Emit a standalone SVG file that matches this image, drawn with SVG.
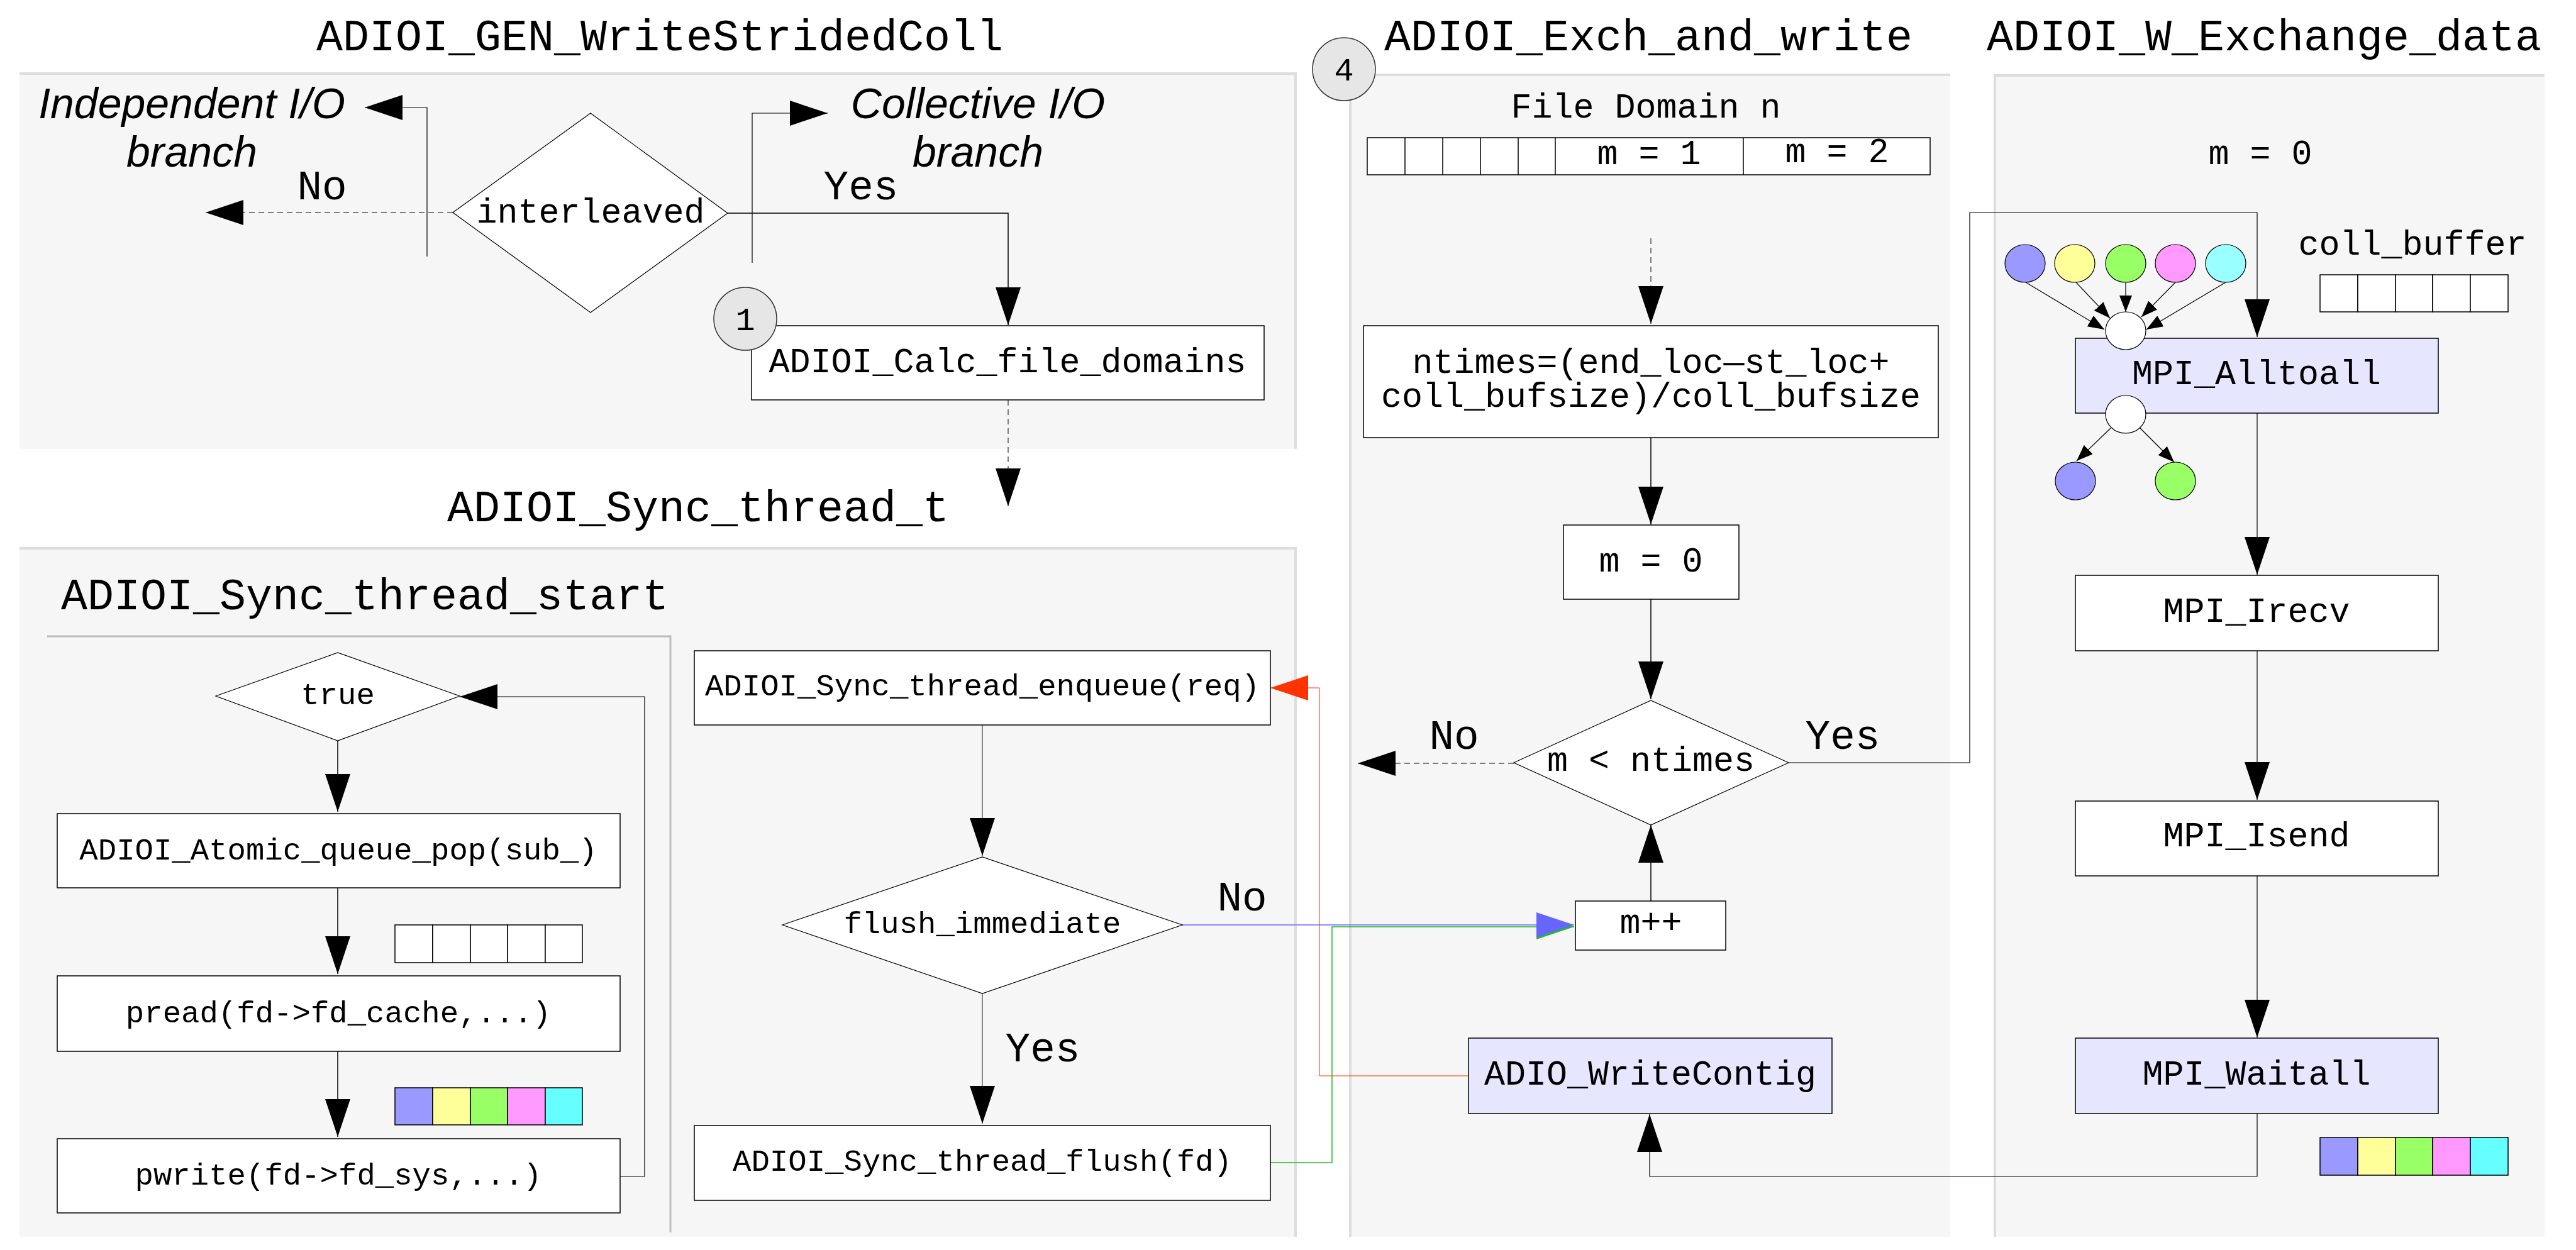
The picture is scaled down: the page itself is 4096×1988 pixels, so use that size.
<svg xmlns="http://www.w3.org/2000/svg" width="4096" height="1988" viewBox="0 0 4096 1988">
<style>
.mono{font-family:"Liberation Mono","DejaVu Sans Mono",monospace;fill:#000}
.t70{font-size:70px}
.t55{font-size:55px}
.t49{font-size:49px}
.t66{font-size:66px}
.it{font-family:"Liberation Sans",Arial,sans-serif;font-style:italic;font-size:68px;fill:#000}
.box{fill:#fff;stroke:#000;stroke-width:1.5}
.boxb{fill:#e6e6ff;stroke:#000;stroke-width:1.5}
.dia{fill:#fff;stroke:#000;stroke-width:1.2}
.panel{fill:#f6f6f6}
.pb{stroke:#dddddd;stroke-width:4;fill:none}
.sb{stroke:#bbbbbb;stroke-width:3;fill:none}
.num{fill:#e6e6e6;stroke:#333;stroke-width:1.5}
.e{fill:none;stroke:#000;stroke-width:1.5}
.eg{fill:none;stroke:#666;stroke-width:1.5}
.ed{fill:none;stroke:#555;stroke-width:1.5;stroke-dasharray:9 6}
.es{fill:none;stroke:#000;stroke-width:1.2}
.cell{fill:#fff;stroke:#000;stroke-width:1.5}
</style>
<defs>
<marker id="ah" markerUnits="userSpaceOnUse" markerWidth="60" markerHeight="40" refX="60" refY="20" orient="auto"><path d="M0,0 L60,20 L0,40 z" fill="#000"/></marker>
<marker id="ahr" markerUnits="userSpaceOnUse" markerWidth="60" markerHeight="40" refX="60" refY="20" orient="auto"><path d="M0,0 L60,20 L0,40 z" fill="#ff3300"/></marker>
<marker id="ahb" markerUnits="userSpaceOnUse" markerWidth="60" markerHeight="40" refX="60" refY="20" orient="auto"><path d="M0,0 L60,20 L0,40 z" fill="#6666ff"/></marker>
<marker id="ahg" markerUnits="userSpaceOnUse" markerWidth="60" markerHeight="40" refX="60" refY="20" orient="auto"><path d="M0,0 L60,20 L0,40 z" fill="#22bb22"/></marker>
<marker id="sa" markerUnits="userSpaceOnUse" markerWidth="26" markerHeight="20" refX="26" refY="10" orient="auto"><path d="M0,0 L26,10 L0,20 z" fill="#000"/></marker>
</defs>
<rect width="4096" height="1988" fill="#fff"/>

<g id="panels">
<rect class="panel" x="31" y="115" width="2030" height="599"/>
<path class="pb" d="M31,117 H2060 V714"/>
<rect class="panel" x="31" y="870" width="2030" height="1097"/>
<path class="pb" d="M31,872 H2060 V1967"/>
<path class="sb" d="M75,1012 H1066 V1960"/>
<rect class="panel" x="2145" y="117" width="956" height="1850"/>
<path class="pb" d="M2147,1967 V119 H3101"/>
<rect class="panel" x="3170" y="118" width="876" height="1849"/>
<path class="pb" d="M3172,1967 V120 H4046"/>
</g>

<g id="titles">
<text class="mono t70" x="1049" y="80" text-anchor="middle">ADIOI_GEN_WriteStridedColl</text>
<text class="mono t70" x="1110" y="829" text-anchor="middle">ADIOI_Sync_thread_t</text>
<text class="mono t70" x="97" y="969">ADIOI_Sync_thread_start</text>
<text class="mono t70" x="2621" y="80" text-anchor="middle">ADIOI_Exch_and_write</text>
<text class="mono t70" x="3600" y="80" text-anchor="middle">ADIOI_W_Exchange_data</text>
</g>

<g id="connectors">
<path class="ed" d="M720,338 H327" marker-end="url(#ah)"/>
<path class="es" d="M679,408 V171 H580" marker-end="url(#ah)"/>
<path class="e" d="M1157,339 H1603 V517" marker-end="url(#ah)"/>
<path class="es" d="M1196,418 V180 H1316" marker-end="url(#ah)"/>
<path class="ed" d="M1603,636 V805" marker-end="url(#ah)"/>
<path class="e" d="M537,1178 V1291" marker-end="url(#ah)"/>
<path class="e" d="M537,1412 V1549" marker-end="url(#ah)"/>
<path class="e" d="M537,1672 V1808" marker-end="url(#ah)"/>
<path class="es" d="M986,1871 H1025 V1108 H731" marker-end="url(#ah)"/>
<path class="eg" d="M1562,1153 V1361" marker-end="url(#ah)"/>
<path class="eg" d="M1562,1580 V1787" marker-end="url(#ah)"/>
<path fill="none" stroke="#22bb22" stroke-width="1.5" d="M2020,1849 H2118 V1474 H2503" marker-end="url(#ahg)"/>
<path fill="none" stroke="#6666ff" stroke-width="1.5" d="M1880,1471 H2503" marker-end="url(#ahb)"/>
<path fill="none" stroke="#ff3300" stroke-width="1" d="M2335,1711 H2098 V1094 H2020" marker-end="url(#ahr)"/>
<path class="ed" d="M2407,1214 H2159" marker-end="url(#ah)"/>
<path class="es" d="M2844,1213 H3132 V338 H3589 V536" marker-end="url(#ah)"/>
<path class="ed" d="M2625,379 V515" marker-end="url(#ah)"/>
<path class="e" d="M2625,696 V834" marker-end="url(#ah)"/>
<path class="e" d="M2625,953 V1112" marker-end="url(#ah)"/>
<path class="e" d="M2625,1433 V1312" marker-end="url(#ah)"/>
<path class="es" d="M3589,657 V914" marker-end="url(#ah)"/>
<path class="es" d="M3589,1035 V1272" marker-end="url(#ah)"/>
<path class="es" d="M3589,1393 V1650" marker-end="url(#ah)"/>
<path class="es" d="M3589,1771 V1871 H2623 V1772" marker-end="url(#ah)"/>
<path class="es" d="M3221,449 L3346,524" marker-end="url(#sa)"/>
<path class="es" d="M3301,449 L3355,506" marker-end="url(#sa)"/>
<path class="es" d="M3380,449 L3380,496" marker-end="url(#sa)"/>
<path class="es" d="M3459,449 L3405,504" marker-end="url(#sa)"/>
<path class="es" d="M3539,449 L3413,524" marker-end="url(#sa)"/>
<path class="es" d="M3356,681 L3302,733" marker-end="url(#sa)"/>
<path class="es" d="M3403,681 L3457,735" marker-end="url(#sa)"/>
</g>

<g id="labels">
<text class="it" x="305" y="188" text-anchor="middle">Independent I/O</text>
<text class="it" x="305" y="265" text-anchor="middle">branch</text>
<text class="it" x="1555" y="188" text-anchor="middle">Collective I/O</text>
<text class="it" x="1555" y="265" text-anchor="middle">branch</text>
<text class="mono t66" x="512" y="317" text-anchor="middle">No</text>
<text class="mono t66" x="1369" y="317" text-anchor="middle">Yes</text>
<text class="mono t66" x="1975" y="1448" text-anchor="middle">No</text>
<text class="mono t66" x="1658" y="1688" text-anchor="middle">Yes</text>
<text class="mono t66" x="2312" y="1191" text-anchor="middle">No</text>
<text class="mono t66" x="2930" y="1191" text-anchor="middle">Yes</text>
</g>

<g id="interleaved">
<polygon class="dia" points="720,338 939,180 1157,339 939,497"/>
<text class="mono t55" x="939" y="354" text-anchor="middle">interleaved</text>
</g>

<g id="calc_file_domains">
<rect class="box" x="1195" y="518" width="815" height="118"/>
<text class="mono t55" x="1602" y="592" text-anchor="middle">ADIOI_Calc_file_domains</text>
</g>

<g id="step1">
<circle class="num" cx="1185" cy="507" r="50"/>
<text class="mono" font-size="52" x="1185" y="525" text-anchor="middle">1</text>
</g>

<g id="true_loop">
<polygon class="dia" points="343,1107 537,1038 731,1107 537,1178"/>
<text class="mono t49" x="537" y="1120" text-anchor="middle">true</text>
</g>

<g id="atomic_queue_pop">
<rect class="box" x="91" y="1294" width="895" height="118"/>
<text class="mono t49" x="538" y="1367" text-anchor="middle">ADIOI_Atomic_queue_pop(sub_)</text>
</g>

<g id="empty_cells">
<rect class="cell" x="628" y="1471" width="60" height="60"/>
<rect class="cell" x="688" y="1471" width="60" height="60"/>
<rect class="cell" x="748" y="1471" width="59" height="60"/>
<rect class="cell" x="807" y="1471" width="60" height="60"/>
<rect class="cell" x="867" y="1471" width="59" height="60"/>
</g>

<g id="pread">
<rect class="box" x="91" y="1552" width="895" height="120"/>
<text class="mono t49" x="538" y="1626" text-anchor="middle">pread(fd-&gt;fd_cache,...)</text>
</g>

<g id="color_cells_left">
<rect class="cell" style="fill:#9999ff" x="628" y="1730" width="60" height="59"/>
<rect class="cell" style="fill:#ffff99" x="688" y="1730" width="60" height="59"/>
<rect class="cell" style="fill:#99ff66" x="748" y="1730" width="59" height="59"/>
<rect class="cell" style="fill:#ff99ff" x="807" y="1730" width="60" height="59"/>
<rect class="cell" style="fill:#66ffff" x="867" y="1730" width="59" height="59"/>
</g>

<g id="pwrite">
<rect class="box" x="91" y="1811" width="895" height="118"/>
<text class="mono t49" x="538" y="1884" text-anchor="middle">pwrite(fd-&gt;fd_sys,...)</text>
</g>

<g id="enqueue">
<rect class="box" x="1104" y="1035" width="916" height="118"/>
<text class="mono t49" x="1562" y="1106" text-anchor="middle">ADIOI_Sync_thread_enqueue(req)</text>
</g>

<g id="flush_immediate">
<polygon class="dia" points="1244,1471 1562,1363 1880,1471 1562,1580"/>
<text class="mono t49" x="1562" y="1484" text-anchor="middle">flush_immediate</text>
</g>

<g id="thread_flush">
<rect class="box" x="1104" y="1790" width="916" height="119"/>
<text class="mono t49" x="1562" y="1862" text-anchor="middle">ADIOI_Sync_thread_flush(fd)</text>
</g>

<g id="step4">
<circle class="num" cx="2137" cy="110" r="50"/>
<text class="mono" font-size="52" x="2137" y="128" text-anchor="middle">4</text>
</g>

<g id="file_domain">
<text class="mono t55" x="2617" y="187" text-anchor="middle">File Domain n</text>
<rect class="cell" x="2174" y="219" width="895" height="59"/>
<path class="e" d="M2234,219 V278 M2294,219 V278 M2354,219 V278 M2414,219 V278 M2473,219 V278 M2772,219 V278"/>
<text class="mono t55" x="2622" y="261" text-anchor="middle">m = 1</text>
<text class="mono t55" x="2921" y="258" text-anchor="middle">m = 2</text>
</g>

<g id="ntimes">
<rect class="box" x="2168" y="518" width="914" height="178"/>
<text class="mono t55" x="2625" y="593" text-anchor="middle">ntimes=(end_loc—st_loc+</text>
<text class="mono t55" x="2625" y="647" text-anchor="middle">coll_bufsize)/coll_bufsize</text>
</g>

<g id="m_init">
<rect class="box" x="2486" y="835" width="279" height="118"/>
<text class="mono t55" x="2625" y="909" text-anchor="middle">m = 0</text>
</g>

<g id="m_lt_ntimes">
<polygon class="dia" points="2407,1213 2625,1114 2844,1213 2625,1312"/>
<text class="mono t55" x="2625" y="1226" text-anchor="middle">m &lt; ntimes</text>
</g>

<g id="m_inc">
<rect class="box" x="2505" y="1433" width="239" height="78"/>
<text class="mono t55" x="2625" y="1484" text-anchor="middle">m++</text>
</g>

<g id="write_contig">
<rect class="boxb" x="2335" y="1651" width="578" height="120"/>
<text class="mono t55" x="2624" y="1725" text-anchor="middle">ADIO_WriteContig</text>
</g>

<g id="exchange_header">
<text class="mono t55" x="3594" y="261" text-anchor="middle">m = 0</text>
<text class="mono t55" x="3836" y="405" text-anchor="middle">coll_buffer</text>
</g>

<g id="coll_buffer_cells">
<rect class="cell" x="3689" y="437" width="60" height="59"/>
<rect class="cell" x="3749" y="437" width="60" height="59"/>
<rect class="cell" x="3809" y="437" width="59" height="59"/>
<rect class="cell" x="3868" y="437" width="60" height="59"/>
<rect class="cell" x="3928" y="437" width="60" height="59"/>
</g>

<g id="source_procs">
<ellipse cx="3220" cy="419" rx="32" ry="30" fill="#9999ff" stroke="#000" stroke-width="1.2"/>
<ellipse cx="3299" cy="419" rx="32" ry="30" fill="#ffff99" stroke="#000" stroke-width="1.2"/>
<ellipse cx="3380" cy="419" rx="32" ry="30" fill="#99ff66" stroke="#000" stroke-width="1.2"/>
<ellipse cx="3459" cy="419" rx="32" ry="30" fill="#ff99ff" stroke="#000" stroke-width="1.2"/>
<ellipse cx="3539" cy="419" rx="32" ry="30" fill="#99ffff" stroke="#000" stroke-width="1.2"/>
</g>

<g id="alltoall">
<rect class="boxb" x="3300" y="538" width="577" height="119"/>
<text class="mono t55" x="3588" y="611" text-anchor="middle">MPI_Alltoall</text>
<ellipse cx="3380" cy="526" rx="32" ry="30" fill="#fff" stroke="#000" stroke-width="1.2"/>
<ellipse cx="3380" cy="659" rx="32" ry="30" fill="#fff" stroke="#000" stroke-width="1.2"/>
</g>

<g id="dest_procs">
<ellipse cx="3300" cy="765" rx="32" ry="30" fill="#9999ff" stroke="#000" stroke-width="1.2"/>
<ellipse cx="3459" cy="765" rx="32" ry="30" fill="#99ff66" stroke="#000" stroke-width="1.2"/>
</g>

<g id="irecv">
<rect class="box" x="3300" y="915" width="577" height="120"/>
<text class="mono t55" x="3588" y="989" text-anchor="middle">MPI_Irecv</text>
</g>

<g id="isend">
<rect class="box" x="3300" y="1274" width="577" height="119"/>
<text class="mono t55" x="3588" y="1346" text-anchor="middle">MPI_Isend</text>
</g>

<g id="waitall">
<rect class="boxb" x="3300" y="1651" width="577" height="120"/>
<text class="mono t55" x="3588" y="1725" text-anchor="middle">MPI_Waitall</text>
</g>

<g id="color_cells_right">
<rect class="cell" style="fill:#9999ff" x="3689" y="1809" width="60" height="60"/>
<rect class="cell" style="fill:#ffff99" x="3749" y="1809" width="60" height="60"/>
<rect class="cell" style="fill:#99ff66" x="3809" y="1809" width="59" height="60"/>
<rect class="cell" style="fill:#ff99ff" x="3868" y="1809" width="60" height="60"/>
<rect class="cell" style="fill:#66ffff" x="3928" y="1809" width="60" height="60"/>
</g>
</svg>
